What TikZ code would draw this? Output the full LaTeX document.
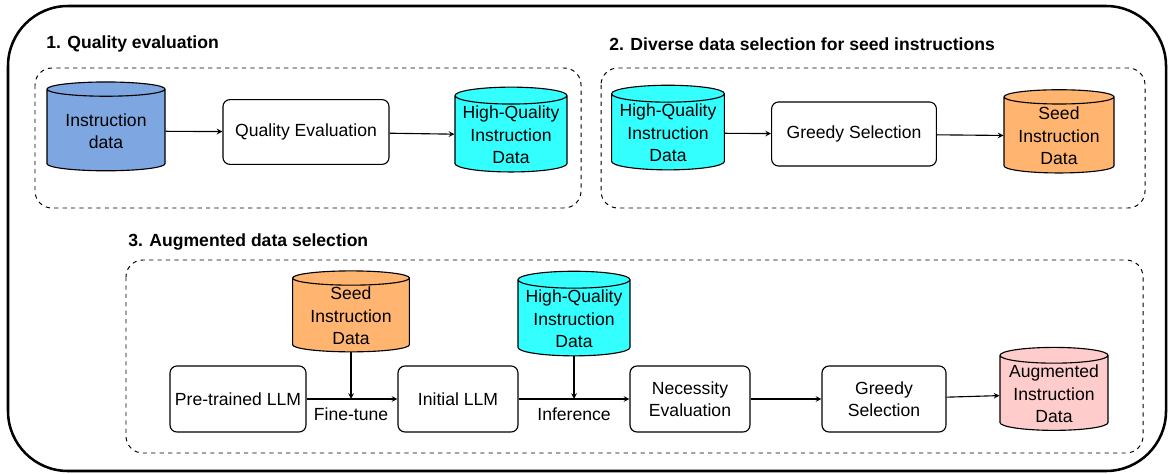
\documentclass[tikz,border=0pt]{standalone}
\usepackage{fontspec}
\setmainfont{Liberation Sans}
\usetikzlibrary{shapes.geometric}

\definecolor{instblue}{HTML}{7EA6E0}
\definecolor{hqcyan}{HTML}{33FFFF}
\definecolor{seedorange}{HTML}{FFB570}
\definecolor{augpink}{HTML}{FFCCCC}

\tikzset{
  procbox/.style={draw, rounded corners=5pt, align=center, line width=0.8pt},
  datacyl/.style={cylinder, shape border rotate=90, aspect=0.17, draw,
    align=center, line width=0.8pt, inner sep=1pt, text depth=-4pt},
  stagebox/.style={draw, dashed, rounded corners=12pt, line width=0.7pt},
  stagetitle/.style={anchor=west, font=\fontsize{12.5}{16}\selectfont\bfseries,
    inner sep=0pt},
  flow/.style={->, line width=0.8pt},
}

\begin{document}
\begin{tikzpicture}[x=0.025cm, y=-0.025cm, >=stealth,
  font=\fontsize{12.5}{16}\selectfont]

  \useasboundingbox (0,0) rectangle (1169,473);

  % Outer frame
  \draw[line width=1.8pt, rounded corners=1.5cm] (8,6) rectangle (1166,471);

%%%%%%%%%%%%%%%%%%%%%%%%%%%%%%%%%%%%%%%%%%
  % Stage 1
  \node[stagetitle] (title1) at (46,44) {1. Quality evaluation};
  \draw[stagebox] (35,68) rectangle (581,208);

  \node[datacyl, fill=instblue, minimum width=2.95cm, minimum height=2.22cm]
    (instdata) at (106,131) {Instruction\\data};
  \node[procbox, minimum width=4.15cm, minimum height=1.62cm]
    (qualeval) at (306,132) {Quality Evaluation};
  \node[datacyl, fill=hqcyan, minimum width=2.8cm, minimum height=2.12cm]
    (hqdata) at (511,135) {High-Quality\\Instruction\\Data};

  \draw[flow] (instdata) -- (qualeval);
  \draw[flow] (qualeval) -- (hqdata);

%%%%%%%%%%%%%%%%%%%%%%%%%%%%%%%%%%%%%%%%%%
  % Stage 2
  \node[stagetitle] (title2) at (609,44) {2. Diverse data selection for seed instructions};
  \draw[stagebox] (601,68) rectangle (1145,208);

  \node[datacyl, fill=hqcyan, minimum width=2.82cm, minimum height=2.08cm]
    (hqdatab) at (668,133) {High-Quality\\Instruction\\Data};
  \node[procbox, minimum width=4.12cm, minimum height=1.6cm]
    (greedya) at (854,134) {Greedy Selection};
  \node[datacyl, fill=seedorange, minimum width=2.75cm, minimum height=2.08cm]
    (seeddata) at (1059,136) {Seed\\Instruction\\Data};

  \draw[flow] (hqdatab) -- (greedya);
  \draw[flow] (greedya) -- (seeddata);

%%%%%%%%%%%%%%%%%%%%%%%%%%%%%%%%%%%%%%%%%%
  % Stage 3
  \node[stagetitle] (title3) at (128,242) {3. Augmented data selection};
  \draw[stagebox] (126,260) rectangle (1143,453);

  \node[procbox, minimum width=3.4cm, minimum height=1.65cm]
    (pretrained) at (238,399) {Pre-trained LLM};
  \node[procbox, minimum width=3cm, minimum height=1.65cm]
    (initllm) at (458,399) {Initial LLM};
  \node[procbox, minimum width=3cm, minimum height=1.65cm]
    (necessity) at (690,399) {Necessity\\Evaluation};
  \node[procbox, minimum width=3.1cm, minimum height=1.65cm]
    (greedyb) at (884,399) {Greedy\\Selection};
  \node[datacyl, fill=augpink, minimum width=2.7cm, minimum height=2cm]
    (augdata) at (1054,394) {Augmented\\Instruction\\Data};

  \node[datacyl, fill=seedorange, minimum width=2.92cm, minimum height=1.98cm]
    (seeddatab) at (351,316) {Seed\\Instruction\\Data};
  \node[datacyl, fill=hqcyan, minimum width=2.8cm, minimum height=2.1cm]
    (hqdatac) at (574,319) {High-Quality\\Instruction\\Data};

  \coordinate (finetune) at (seeddatab.south |- pretrained.east);
  \coordinate (infer) at (hqdatac.south |- initllm.east);

  \draw[flow] (pretrained) -- (initllm);
  \draw[flow] (initllm) -- (necessity);
  \draw[flow] (necessity) -- (greedyb);
  \draw[flow] (greedyb) -- (augdata);
  \draw[flow] (seeddatab) -- (finetune);
  \draw[flow] (hqdatac) -- (infer);

  \node[below=3pt] (ftlabel) at (finetune) {Fine-tune};
  \node[below=3pt] (inflabel) at (infer) {Inference};

\end{tikzpicture}
\end{document}
